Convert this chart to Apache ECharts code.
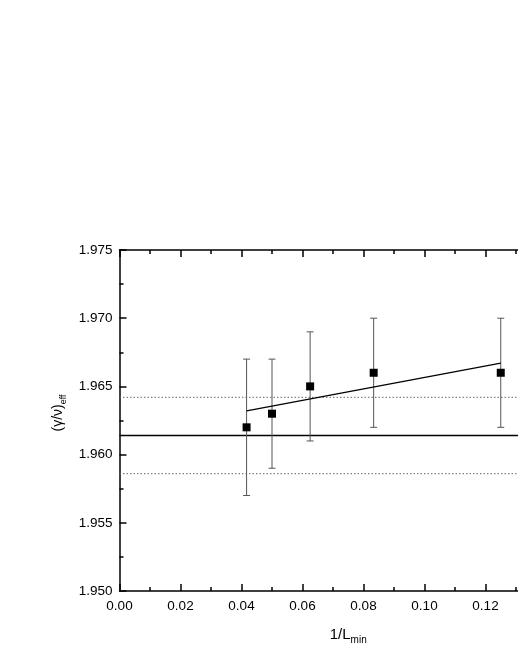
<!DOCTYPE html>
<html>
<head>
<meta charset="utf-8">
<script src="https://cdn.jsdelivr.net/npm/echarts@6/dist/echarts.min.js"></script>
<style>
html,body{margin:0;padding:0;background:#fff;}
#c{width:518px;height:670px;}
</style>
</head>
<body>
<div id="c"></div>
<script>
// Data
const invL = [1/24, 1/20, 1/16, 1/12, 1/8];
const gammaNu = [1.962, 1.963, 1.965, 1.966, 1.966];
const errLow = [1.957, 1.959, 1.961, 1.962, 1.962];
const errHigh = [1.967, 1.967, 1.969, 1.970, 1.970];
const fitX = [1/24, 1/8];
const fitY = [1.9632, 1.9667];
const meanValue = 1.9614;
const bandLow = 1.9586;
const bandHigh = 1.9642;
const xTicks = [0, 0.15, 0.02];
const yTicks = [1.95, 1.975, 0.005];

const chart = echarts.init(document.getElementById('c'), null, {renderer:'canvas'});
const font = 'Liberation Sans, Arial, sans-serif';
const axisCommon = {
  axisLine:{show:true, onZero:false, lineStyle:{color:'#000', width:1.5}},
  axisTick:{show:true, inside:true, length:7, lineStyle:{color:'#000', width:1.5}},
  minorTick:{show:true, splitNumber:2, length:4, lineStyle:{color:'#000', width:1.5}},
  splitLine:{show:false}
};
const option = {
  animation:false,
  backgroundColor:'#fff',
  grid:{left:119.5, top:250, width:457.5, height:341, containLabel:false, outerBoundsMode:'none'},
  xAxis:[
    Object.assign({}, axisCommon, {
      type:'value', position:'bottom', min:xTicks[0], max:xTicks[1], interval:xTicks[2],
      axisLabel:{color:'#000', fontSize:13.5, fontFamily:font, margin:8,
        formatter:v=>v.toFixed(2)},
      name:'{a|1/L}{s|min}', nameLocation:'middle', nameGap:34,
      nameTextStyle:{color:'#000', fontFamily:font,
        rich:{a:{fontSize:15, fontFamily:font, color:'#000', lineHeight:20},
              s:{fontSize:10, fontFamily:font, color:'#000', verticalAlign:'bottom', padding:[10,0,0,0], lineHeight:20}}}
    }),
    Object.assign({}, axisCommon, {
      type:'value', position:'top', min:xTicks[0], max:xTicks[1], interval:xTicks[2],
      axisLabel:{show:false}
    })
  ],
  yAxis:[
    Object.assign({}, axisCommon, {
      type:'value', position:'left', min:yTicks[0], max:yTicks[1], interval:yTicks[2],
      axisLabel:{color:'#000', fontSize:13.5, fontFamily:font, margin:7,
        formatter:v=>v.toFixed(3)},
      name:'{a|(γ/ν)}{s|eff}', nameLocation:'middle', nameGap:50, nameRotate:90,
      nameTextStyle:{color:'#000', fontFamily:font, padding:[0,0,0,15],
        rich:{a:{fontSize:14, fontFamily:font, color:'#000', lineHeight:20},
              s:{fontSize:9, fontFamily:font, color:'#000', verticalAlign:'bottom', padding:[10,0,0,0], lineHeight:20}}}
    })
  ],
  series:[
    {
      type:'line', data:[[xTicks[0], meanValue],[xTicks[1], meanValue]],
      symbol:'none', lineStyle:{color:'#000', width:1.5}, z:2
    },
    {
      type:'line', data:[[xTicks[0], bandHigh],[xTicks[1], bandHigh]],
      symbol:'none', lineStyle:{color:'#666', width:1, type:[1.5,2]}, z:2
    },
    {
      type:'line', data:[[xTicks[0], bandLow],[xTicks[1], bandLow]],
      symbol:'none', lineStyle:{color:'#666', width:1, type:[1.5,2]}, z:2
    },
    {
      type:'custom', z:3,
      data: invL.map((x,i)=>[x, errLow[i], errHigh[i]]),
      renderItem:function(params, api){
        const lo = api.coord([api.value(0), api.value(1)]);
        const hi = api.coord([api.value(0), api.value(2)]);
        const cw = 3.5;
        const st = {stroke:'#555', lineWidth:1, fill:null};
        return {type:'group', children:[
          {type:'line', shape:{x1:lo[0], y1:lo[1], x2:hi[0], y2:hi[1]}, style:st},
          {type:'line', shape:{x1:lo[0]-cw, y1:lo[1], x2:lo[0]+cw, y2:lo[1]}, style:st},
          {type:'line', shape:{x1:hi[0]-cw, y1:hi[1], x2:hi[0]+cw, y2:hi[1]}, style:st}
        ]};
      }
    },
    {
      type:'line', data: fitX.map((x,i)=>[x, fitY[i]]),
      symbol:'none', lineStyle:{color:'#000', width:1.3}, z:4
    },
    {
      type:'scatter', data: invL.map((x,i)=>[x, gammaNu[i]]),
      symbol:'rect', symbolSize:8, itemStyle:{color:'#000', opacity:1}, z:5
    }
  ]
};
chart.setOption(option);
</script>
</body>
</html>
